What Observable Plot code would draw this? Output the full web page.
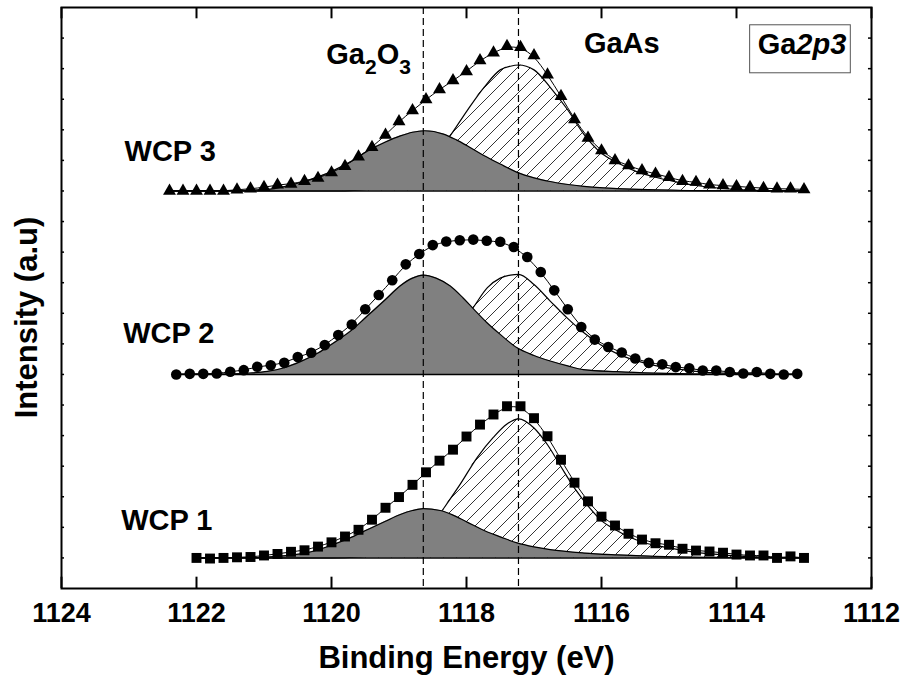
<!DOCTYPE html>
<html><head><meta charset="utf-8">
<script src="https://cdn.jsdelivr.net/npm/d3@7"></script>
<script src="https://cdn.jsdelivr.net/npm/@observablehq/plot@0.6"></script>
<style>body{margin:0;background:#fff}svg{display:block}</style>
</head><body><div id="chart"></div>
<script>
// ---------- data ----------
const seriesNames = ["WCP 1", "WCP 2", "WCP 3"];
const seriesOffsets = [1, 7, 13];
const seriesSymbols = ["square", "circle", "triangle"];
const seriesRadius = [5.6, 5.3, 4.8];

const wcp1Energy = [1122.0,1121.8,1121.6,1121.4,1121.2,1121.0,1120.8,1120.6,1120.4,1120.2,1120.0,1119.8,1119.6,1119.4,1119.2,1119.0,1118.8,1118.6,1118.4,1118.2,1118.0,1117.8,1117.6,1117.4,1117.2,1117.0,1116.8,1116.6,1116.4,1116.2,1116.0,1115.8,1115.6,1115.4,1115.2,1115.0,1114.8,1114.6,1114.4,1114.2,1114.0,1113.8,1113.6,1113.4,1113.2,1113.0];
const wcp1Intensity = [0.00,-0.02,0.00,0.02,0.03,0.08,0.13,0.20,0.25,0.37,0.51,0.70,0.92,1.25,1.64,1.99,2.39,2.80,3.18,3.54,3.97,4.36,4.69,4.96,4.96,4.57,3.98,3.21,2.46,1.85,1.35,1.06,0.79,0.60,0.48,0.43,0.30,0.24,0.21,0.17,0.11,0.08,0.08,0.00,0.05,0.00];

const wcp2Energy = [1122.3,1122.1,1121.9,1121.7,1121.5,1121.3,1121.1,1120.9,1120.7,1120.5,1120.3,1120.1,1119.9,1119.7,1119.5,1119.3,1119.1,1118.9,1118.7,1118.5,1118.3,1118.1,1117.9,1117.7,1117.5,1117.3,1117.1,1116.9,1116.7,1116.5,1116.3,1116.1,1115.9,1115.7,1115.5,1115.3,1115.1,1114.9,1114.7,1114.5,1114.3,1114.1,1113.9,1113.7,1113.5,1113.3,1113.1];
const wcp2Intensity = [0.00,0.02,0.02,0.03,0.09,0.14,0.25,0.30,0.38,0.57,0.71,0.96,1.29,1.63,2.13,2.60,3.08,3.60,3.94,4.23,4.35,4.39,4.41,4.37,4.34,4.17,3.84,3.35,2.75,2.13,1.55,1.14,0.90,0.72,0.52,0.38,0.33,0.24,0.20,0.13,0.13,0.08,0.03,0.08,0.02,0.00,0.02];

const wcp3Energy = [1122.4,1122.2,1122.0,1121.8,1121.6,1121.4,1121.2,1121.0,1120.8,1120.6,1120.4,1120.2,1120.0,1119.8,1119.6,1119.4,1119.2,1119.0,1118.8,1118.6,1118.4,1118.2,1118.0,1117.8,1117.6,1117.4,1117.2,1117.0,1116.8,1116.6,1116.4,1116.2,1116.0,1115.8,1115.6,1115.4,1115.2,1115.0,1114.8,1114.6,1114.4,1114.2,1114.0,1113.8,1113.6,1113.4,1113.2,1113.0];
const wcp3Intensity = [0.00,0.00,0.00,0.00,0.00,0.04,0.07,0.12,0.20,0.23,0.32,0.42,0.60,0.81,1.12,1.43,1.83,2.27,2.63,2.99,3.32,3.61,3.91,4.27,4.52,4.73,4.70,4.43,3.80,3.10,2.34,1.73,1.32,1.00,0.83,0.67,0.56,0.45,0.32,0.29,0.20,0.18,0.15,0.12,0.09,0.07,0.07,0.05];

// fitted components
const ga2o3Wcp1Energy = [1122.0,1121.2,1120.8,1120.46,1120.2,1119.97,1119.7,1119.47,1119.2,1118.98,1118.8,1118.64,1118.39,1118.2,1117.99,1117.69,1117.5,1117.25,1117.0,1116.76,1116.26,1115.77,1115.2,1114.5,1113.0];
const ga2o3Wcp1Value = [0,0.01,0.05,0.13,0.26,0.44,0.68,0.92,1.2,1.42,1.55,1.61,1.55,1.4,1.17,0.85,0.69,0.49,0.36,0.27,0.16,0.10,0.05,0.02,0];
const gaasWcp1Energy = [1122.0,1120.0,1119.6,1119.2,1118.9,1118.6,1118.36,1118.09,1117.84,1117.6,1117.4,1117.23,1117.0,1116.8,1116.6,1116.4,1116.2,1116.0,1115.8,1115.6,1115.4,1115.0,1114.6,1114.2,1113.8,1113.0];
const gaasWcp1Value = [0,0,0.03,0.12,0.35,0.8,1.55,2.42,3.29,3.95,4.38,4.55,4.25,3.7,2.98,2.28,1.7,1.22,0.93,0.70,0.52,0.33,0.18,0.10,0.04,0];

const ga2o3Wcp2Energy = [1122.3,1121.6,1121.25,1120.95,1120.7,1120.46,1120.2,1119.97,1119.7,1119.47,1119.2,1118.98,1118.8,1118.64,1118.45,1118.24,1118.05,1117.89,1117.7,1117.5,1117.25,1117.0,1116.76,1116.5,1116.27,1115.77,1115.2,1114.5,1113.1];
const ga2o3Wcp2Value = [0,0.01,0.04,0.10,0.22,0.42,0.7,1.03,1.45,1.91,2.45,2.9,3.15,3.25,3.15,2.89,2.5,2.13,1.7,1.31,0.87,0.62,0.44,0.28,0.16,0.09,0.04,0.01,0];
const gaasWcp2Energy = [1122.3,1119.6,1119.2,1118.8,1118.5,1118.2,1117.92,1117.69,1117.5,1117.35,1117.23,1117.0,1116.76,1116.51,1116.27,1116.02,1115.77,1115.5,1115.2,1114.9,1114.6,1114.2,1113.1];
const gaasWcp2Value = [0,0,0.08,0.3,0.7,1.4,2.13,2.84,3.15,3.25,3.27,2.94,2.4,1.85,1.38,0.98,0.68,0.46,0.29,0.18,0.10,0.04,0];

const ga2o3Wcp3Energy = [1122.4,1121.5,1120.95,1120.7,1120.46,1120.2,1119.97,1119.7,1119.47,1119.2,1118.98,1118.8,1118.62,1118.34,1118.15,1117.99,1117.75,1117.5,1117.25,1117.0,1116.76,1116.26,1115.77,1115.2,1114.5,1113.0];
const ga2o3Wcp3Value = [0,0.01,0.05,0.14,0.28,0.46,0.67,0.98,1.3,1.6,1.8,1.92,1.97,1.86,1.67,1.48,1.17,0.88,0.61,0.43,0.31,0.15,0.08,0.04,0.01,0];
const gaasWcp3Energy = [1122.4,1120.0,1119.6,1119.2,1118.8,1118.5,1118.26,1117.99,1117.74,1117.5,1117.35,1117.23,1117.0,1116.76,1116.51,1116.26,1116.01,1115.77,1115.5,1115.2,1114.9,1114.6,1114.2,1113.8,1113.0];
const gaasWcp3Value = [0,0,0.03,0.15,0.5,1.1,1.75,2.63,3.39,3.96,4.08,4.12,3.96,3.39,2.68,1.85,1.25,0.93,0.65,0.45,0.3,0.18,0.08,0.03,0];

const peakNames = ["Ga2O3", "GaAs"];
const peakPositions = [1118.64, 1117.23];
const peakLabelEnergy = [1119.45, 1115.70];
const peakLabelLevel = [17.46, 17.82];

const seriesLabelEnergy = [1122.44, 1122.41, 1122.39];
const seriesLabelLevel = [2.22, 8.32, 14.27];

const coreLevelLabel = "Ga2p3";
const coreLevelEnergy = 1113.03;
const coreLevelLevel = 17.79;

const xTicks = [1124, 1122, 1120, 1118, 1116, 1114, 1112];
const yMinorTicks = [1,2,3,4,5,6,7,8,9,10,11,12,13,14,15,16,17,18];
const xTitle = "Binding Energy (eV)";
const yTitle = "Intensity (a.u)";

// ---------- tables ----------
const measured = [wcp1Energy, wcp2Energy, wcp3Energy];
const measuredI = [wcp1Intensity, wcp2Intensity, wcp3Intensity];
const ga2o3E = [ga2o3Wcp1Energy, ga2o3Wcp2Energy, ga2o3Wcp3Energy];
const ga2o3V = [ga2o3Wcp1Value, ga2o3Wcp2Value, ga2o3Wcp3Value];
const gaasE = [gaasWcp1Energy, gaasWcp2Energy, gaasWcp3Energy];
const gaasV = [gaasWcp1Value, gaasWcp2Value, gaasWcp3Value];

function table(E, V, k) {
  return E.map((e, i) => ({E: e, I: seriesOffsets[k] + V[i], base: seriesOffsets[k], series: seriesNames[k]}));
}

const marks = [];
for (let k = 0; k < 3; k++) {
  const gaas = table(gaasE[k], gaasV[k], k);
  const ox = table(ga2o3E[k], ga2o3V[k], k);
  marks.push(
    Plot.areaY(gaas, {x: "E", y1: "base", y2: "I", fill: "url(#hatch)", curve: "monotone-x"}),
    Plot.line(gaas, {x: "E", y: "I", stroke: "black", strokeWidth: 1.2, curve: "monotone-x"}),
    Plot.areaY(ox, {x: "E", y1: "base", y2: "I", fill: "#808080", curve: "monotone-x"}),
    Plot.line(ox, {x: "E", y: "I", stroke: "black", strokeWidth: 1.2, curve: "monotone-x"})
  );
}
const baselines = seriesNames.map((s, k) => ({
  series: s, y: seriesOffsets[k],
  x1: measured[k][0], x2: measured[k][measured[k].length - 1]
}));
marks.push(Plot.ruleY(baselines, {y: "y", x1: "x1", x2: "x2", stroke: "black", strokeWidth: 1.5}));
marks.push(Plot.ruleX(peakPositions, {stroke: "black", strokeWidth: 1.2, strokeDasharray: "7,4"}));
for (let k = 0; k < 3; k++) {
  const pts = table(measured[k], measuredI[k], k);
  marks.push(
    Plot.line(pts, {x: "E", y: "I", stroke: "black", strokeWidth: 1, curve: "basis"}),
    Plot.dot(pts, {x: "E", y: "I", symbol: seriesSymbols[k], r: seriesRadius[k], fill: "black", stroke: "none"})
  );
}
// inward ticks
marks.push(
  Plot.ruleX(xTicks, {x: d => d, y1: 0, y2: 0.37, stroke: "black", strokeWidth: 2}),
  Plot.ruleX(xTicks, {x: d => d, y1: 19, y2: 18.63, stroke: "black", strokeWidth: 2}),
  Plot.ruleY(yMinorTicks, {y: d => d, x1: 1124, x2: 1123.955, stroke: "black", strokeWidth: 1.5}),
  Plot.ruleY(yMinorTicks, {y: d => d, x1: 1112, x2: 1112.045, stroke: "black", strokeWidth: 1.5}),
  Plot.frame({stroke: "black", strokeWidth: 2})
);
// labels
const seriesLabels = seriesNames.map((s, k) => ({text: s, E: seriesLabelEnergy[k], v: seriesLabelLevel[k]}));
const peakLabels = peakNames.map((s, k) => ({text: s, E: peakLabelEnergy[k], v: peakLabelLevel[k]}));
marks.push(
  Plot.text(seriesLabels, {x: "E", y: "v", text: "text", fontSize: 29, fontWeight: "bold", textAnchor: "middle", lineAnchor: "middle", fill: "black"}),
  Plot.text(peakLabels, {x: "E", y: "v", text: "text", fontSize: 29, fontWeight: "bold", textAnchor: "middle", lineAnchor: "middle", fill: "black"}),
  Plot.text([coreLevelLabel], {x: () => coreLevelEnergy, y: () => coreLevelLevel, text: d => d, fontSize: 29, fontWeight: "bold", textAnchor: "middle", lineAnchor: "middle", fill: "black"}),
  Plot.text([xTitle], {text: d => d, frameAnchor: "bottom", dy: 70, fontSize: 31, fontWeight: "bold", textAnchor: "middle", lineAnchor: "middle", fill: "black"}),
  Plot.text([yTitle], {text: d => d, frameAnchor: "left", rotate: -90, dx: -34, dy: 19.5, fontSize: 31, fontWeight: "bold", textAnchor: "middle", lineAnchor: "middle", fill: "black"})
);

const svg = Plot.plot({
  width: 909, height: 686,
  marginTop: 7, marginRight: 38, marginBottom: 98, marginLeft: 61,
  style: {fontFamily: "'Liberation Sans', Arial, sans-serif", fontSize: "27px", fontWeight: "bold", background: "white", color: "black"},
  x: {domain: [1124, 1112], ticks: xTicks, tickSize: 0, tickPadding: 14, tickFormat: d => String(d), label: null},
  y: {domain: [0, 19], axis: null},
  marks
});
document.getElementById("chart").appendChild(svg);

// hatch pattern
const root = d3.select(svg);
const defs = root.insert("defs", ":first-child");
const pat = defs.append("pattern").attr("id", "hatch").attr("patternUnits", "userSpaceOnUse")
  .attr("width", 13).attr("height", 13);
pat.append("path").attr("d", "M0,13 L13,0 M-3,3 L3,-3 M10,16 L16,10")
  .attr("stroke", "black").attr("stroke-width", 0.8).attr("fill", "none");

// rich text: subscripts, italics, and box
root.selectAll("text").each(function () {
  const t = d3.select(this);
  const s = this.textContent;
  if (s === "Ga2O3") {
    t.text(null);
    t.append("tspan").text("Ga");
    t.append("tspan").attr("dy", 10).attr("font-size", 21).text("2");
    t.append("tspan").attr("dy", -10).text("O");
    t.append("tspan").attr("dy", 10).attr("font-size", 21).text("3");
  } else if (s === coreLevelLabel) {
    t.text(null);
    t.append("tspan").text("Ga");
    t.append("tspan").attr("font-style", "italic").text("2p3");
    const bb = this.getBBox();
    d3.select(this.parentNode).insert("rect", () => this)
      .attr("transform", t.attr("transform"))
      .attr("x", bb.x - 8).attr("y", bb.y - 3)
      .attr("width", bb.width + 12).attr("height", bb.height + 16)
      .attr("fill", "white").attr("stroke", "#555").attr("stroke-width", 1);
  }
});
</script>
</body></html>
